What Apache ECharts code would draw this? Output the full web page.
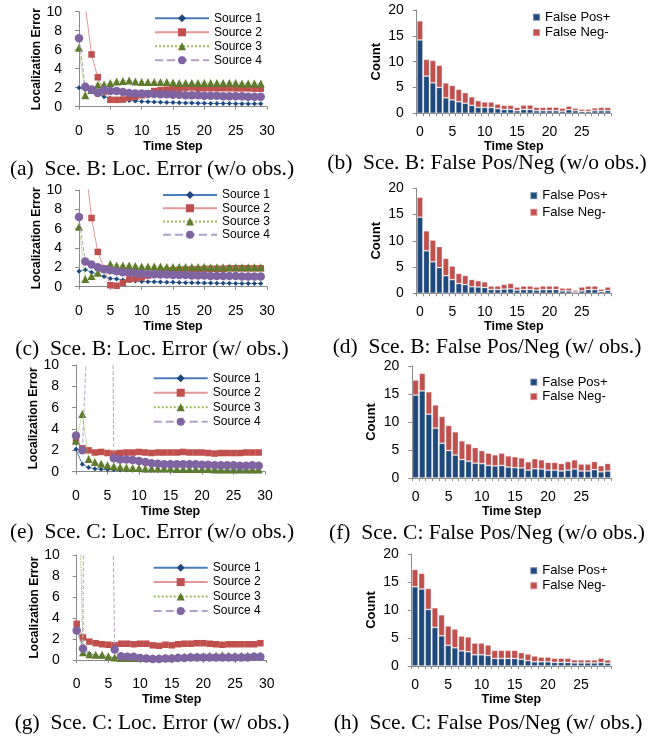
<!DOCTYPE html>
<html><head><meta charset="utf-8">
<script src="https://cdn.jsdelivr.net/npm/echarts@6/dist/echarts.min.js"></script>
<style>html,body{margin:0;padding:0;background:#fff}#c{width:650px;height:738px}</style>
</head><body><div id="c"></div>
<script>
// ---------- DATA ----------
const steps = [0,1,2,3,4,5,6,7,8,9,10,11,12,13,14,15,16,17,18,19,20,21,22,23,24,25,26,27,28,29];
const barCats = ['0','1','2','3','4','5','6','7','8','9','10','11','12','13','14','15','16','17','18','19','20','21','22','23','24','25','26','27','28','29'];
const lineNames = ['Source 1','Source 2','Source 3','Source 4'];
const barNames = ['False Pos+','False Neg-'];
const captions = ['(a)  Sce. B: Loc. Error (w/o obs.)','(b)  Sce. B: False Pos/Neg (w/o obs.)',
  '(c)  Sce. B: Loc. Error (w/ obs.)','(d)  Sce. B: False Pos/Neg (w/ obs.)',
  '(e)  Sce. C: Loc. Error (w/o obs.)','(f)  Sce. C: False Pos/Neg (w/o obs.)',
  '(g)  Sce. C: Loc. Error (w/ obs.)','(h)  Sce. C: False Pos/Neg (w/ obs.)'];

// (a) Sce. B Loc. Error w/o obs.
const a_s1 = [2.0,1.8,1.6,1.4,1.05,0.88,0.8,0.72,0.65,0.6,0.55,0.52,0.5,0.48,0.45,0.43,0.42,0.4,0.39,0.37,0.36,0.35,0.34,0.33,0.33,0.32,0.31,0.3,0.3,0.3];
const a_s2 = [20,10.6,5.5,3.1,1.6,0.72,0.72,0.75,0.95,1.05,1.2,1.4,1.65,1.75,1.8,1.9,1.93,2.0,2.03,1.95,1.95,1.95,1.95,1.95,1.95,1.93,1.93,1.93,1.9,1.9];
const a_s3 = [6.2,1.2,1.75,2.3,2.35,2.5,2.65,2.7,2.75,2.65,2.6,2.6,2.6,2.6,2.6,2.55,2.5,2.5,2.5,2.5,2.5,2.5,2.5,2.5,2.5,2.5,2.45,2.45,2.45,2.45];
const a_s4 = [7.2,2.1,1.8,1.45,1.75,1.65,1.65,1.55,1.45,1.4,1.4,1.35,1.35,1.3,1.3,1.25,1.25,1.2,1.2,1.2,1.15,1.15,1.15,1.1,1.1,1.1,1.1,1.05,1.05,1.05];
// (c) Sce. B Loc. Error w/ obs.
const c_s1 = [1.6,1.75,1.5,1.3,1.05,0.85,0.8,0.7,0.65,0.6,0.55,0.52,0.5,0.48,0.46,0.45,0.43,0.42,0.4,0.4,0.38,0.37,0.36,0.35,0.35,0.34,0.33,0.33,0.32,0.32];
const c_s2 = [20,12.9,7.1,3.6,1.9,0.15,0.1,0.4,0.75,0.83,0.95,1.15,1.3,1.6,1.65,1.7,1.75,1.8,1.8,1.8,1.85,1.85,1.85,1.85,1.9,1.9,1.9,1.9,1.9,1.9];
const c_s3 = [6.2,0.8,1.1,1.45,1.9,2.35,2.2,2.2,2.2,2.15,2.1,2.1,2.1,2.1,2.05,2.05,2.05,2.05,2.05,2.05,2.05,2.0,2.0,2.0,2.0,2.0,2.0,2.0,2.0,2.0];
const c_s4 = [7.2,2.6,2.3,2.0,1.8,1.7,1.6,1.5,1.45,1.4,1.35,1.3,1.3,1.25,1.25,1.2,1.2,1.2,1.15,1.15,1.15,1.1,1.1,1.1,1.1,1.1,1.05,1.05,1.05,1.05];
// (e) Sce. C Loc. Error w/o obs.
const e_s1 = [2.1,0.7,0.4,0.28,0.22,0.2,0.18,0.16,0.15,0.14,0.13,0.12,0.12,0.11,0.11,0.1,0.1,0.1,0.1,0.1,0.1,0.1,0.1,0.1,0.1,0.1,0.1,0.1,0.1,0.1];
const e_s2 = [2.9,2.2,2.0,1.8,1.85,1.75,1.7,1.75,1.8,1.8,1.85,1.8,1.75,1.8,1.8,1.8,1.8,1.85,1.8,1.8,1.8,1.75,1.7,1.75,1.75,1.75,1.75,1.8,1.8,1.8];
const e_s3 = [2.9,5.4,1.2,0.9,0.75,0.6,0.5,0.45,0.4,0.35,0.35,0.3,0.3,0.3,0.3,0.3,0.25,0.25,0.25,0.25,0.25,0.25,0.2,0.2,0.2,0.2,0.2,0.2,0.2,0.2];
const e_s4 = [3.4,2.0,16,60,80,80,1.25,1.15,1.15,1.1,1.0,0.9,0.8,0.75,0.7,0.7,0.7,0.7,0.7,0.7,0.65,0.65,0.6,0.6,0.6,0.6,0.55,0.55,0.6,0.55];
// (g) Sce. C Loc. Error w/ obs.
const g_s1 = [3.1,1.2,0.6,0.4,0.3,0.25,0.2,0.18,0.15,0.15,0.15,0.15,0.15,0.15,0.15,0.15,0.2,0.2,0.2,0.2,0.2,0.2,0.2,0.2,0.2,0.2,0.2,0.2,0.2,0.2];
const g_s2 = [3.45,2.15,1.75,1.6,1.5,1.45,1.4,1.55,1.55,1.5,1.55,1.55,1.4,1.35,1.45,1.4,1.5,1.55,1.55,1.6,1.6,1.55,1.5,1.45,1.5,1.5,1.5,1.5,1.5,1.6];
const g_s3 = [26,0.75,0.55,0.5,0.5,0.35,0.25,0.2,0.2,0.2,0.2,0.2,0.2,0.2,0.2,0.25,0.3,0.3,0.35,0.35,0.35,0.4,0.4,0.45,0.4,0.4,0.4,0.4,0.4,0.4];
const g_s4 = [2.8,1.1,180,150,150,44,1.0,0.35,0.3,0.3,0.2,0.15,0.1,0.1,0.15,0.15,0.2,0.2,0.25,0.25,0.25,0.25,0.25,0.25,0.25,0.25,0.25,0.25,0.3,0.3];

// (b) Sce. B False Pos/Neg w/o obs.
const b_pos = [14.2,7.2,5.9,5.0,3.0,2.6,2.25,1.95,1.55,1.15,1.15,1.1,0.9,0.75,0.75,0.5,0.75,0.75,0.5,0.5,0.5,0.5,0.4,0.7,0.5,0.35,0.35,0.5,0.5,0.5];
const b_neg = [3.7,3.25,4.35,4.3,2.9,2.8,2.4,2.05,1.65,1.3,1.05,1.1,0.9,0.8,0.8,0.65,0.85,0.85,0.65,0.65,0.7,0.7,0.6,0.7,0.5,0.45,0.45,0.55,0.65,0.65];
// (d) Sce. B False Pos/Neg w/ obs.
const d_pos = [14.5,8.1,6.0,4.9,3.35,2.6,1.85,1.65,1.25,1.2,1.1,0.7,0.7,0.8,0.85,0.6,0.7,0.7,0.6,0.7,0.7,0.7,0.45,0.45,0.25,0.45,0.7,0.7,0.35,0.55];
const d_neg = [3.8,3.8,4.15,4.0,3.3,2.6,1.95,1.75,1.4,1.2,1.1,0.7,0.7,0.9,1.05,0.6,0.7,0.7,0.6,0.7,0.7,0.7,0.55,0.55,0.35,0.75,0.7,0.7,0.45,0.65];
// (f) Sce. C False Pos/Neg w/o obs.
const f_pos = [14.8,15.55,11.4,8.9,6.2,4.9,4.1,3.3,3.0,2.65,2.55,2.25,2.15,2.25,1.95,1.85,1.8,1.4,1.65,1.6,1.4,1.4,1.25,1.4,1.6,1.25,1.25,1.5,1.1,1.25];
const f_neg = [2.7,3.15,4.0,4.15,4.8,4.5,4.15,3.35,3.1,2.8,2.35,2.2,2.0,2.2,2.0,1.95,1.8,1.5,1.8,1.65,1.4,1.4,1.35,1.55,1.65,1.25,1.25,1.45,1.1,1.35];
// (h) Sce. C False Pos/Neg w/ obs.
const h_pos = [14.15,13.75,10.1,6.9,5.4,3.7,3.25,2.7,2.55,2.0,2.0,1.85,1.35,1.35,1.35,1.35,1.2,0.95,0.75,0.75,0.75,0.65,0.65,0.65,0.55,0.55,0.55,0.55,0.6,0.5];
const h_neg = [3.1,2.8,3.75,3.5,3.75,3.45,3.35,2.65,2.65,2.1,2.1,1.9,1.45,1.45,1.45,1.45,1.2,1.2,1.05,0.85,0.85,0.75,0.75,0.75,0.55,0.55,0.55,0.55,0.8,0.6];

// ---------- LAYOUT / STYLE ----------
const SANS = 'Liberation Sans, Arial, sans-serif';
const SERIF = 'Liberation Serif, Times New Roman, serif';
const AXIS = '#8a8a8a';

const linePanels = [
  {grid:{left:79,top:11.7,width:188,height:95}, leg:{left:154,top:11.3,lh:14}, data:[a_s1,a_s2,a_s3,a_s4]},
  {grid:{left:79,top:190,width:188,height:96.7}, leg:{left:162,top:188.3,lh:13.3}, data:[c_s1,c_s2,c_s3,c_s4]},
  {grid:{left:76,top:365,width:189,height:106.7}, leg:{left:152.7,top:371,lh:14.5}, data:[e_s1,e_s2,e_s3,e_s4]},
  {grid:{left:76.7,top:555,width:190,height:105}, leg:{left:152.7,top:560.5,lh:14.4}, data:[g_s1,g_s2,g_s3,g_s4]}
];
const barPanels = [
  {grid:{left:416.7,top:10,width:194.3,height:103.3}, leg:{left:532,top:9.6,lh:15.3}, data:[b_pos,b_neg]},
  {grid:{left:416.7,top:188.3,width:194.3,height:105}, leg:{left:529.3,top:187.3,lh:16.7}, data:[d_pos,d_neg]},
  {grid:{left:412.3,top:366,width:198.7,height:112}, leg:{left:529.3,top:375,lh:14.4}, data:[f_pos,f_neg]},
  {grid:{left:411.7,top:554,width:199.3,height:112}, leg:{left:529.3,top:563.2,lh:15}, data:[h_pos,h_neg]}
];
const capPos = [[152,169],[487,163],[152,349],[487,347],[152,532],[487,533],[152,723],[488,723]];

const lineStyles = [
  {line:{color:'#4A7EBB',width:1,type:'solid'}, sym:'diamond', size:5, fill:'#1F497D'},
  {line:{color:'#E39896',width:1,type:'solid'}, sym:'rect', size:6.5, fill:'#C0504D'},
  {line:{color:'#9BBB59',width:1,type:'dotted'}, sym:'triangle', size:8, fill:'#5E7B2E'},
  {line:{color:'#B3A2C7',width:1,type:'dashed'}, sym:'circle', size:8.5, fill:'#8064A2'}
];
const barColors = ['#1F497D','#C0504D'];

const grid = [], xAxis = [], yAxis = [], series = [], legend = [], graphic = [];

linePanels.forEach((p, k) => {
  const gi = grid.length;
  grid.push(Object.assign({containLabel:false}, p.grid));
  xAxis.push({type:'value', gridIndex:gi, min:0, max:30, interval:5,
    axisLine:{show:true, lineStyle:{color:AXIS}}, axisTick:{show:true, length:3, lineStyle:{color:AXIS}},
    splitLine:{show:false}, axisLabel:{margin:17, fontSize:14, color:'#000', fontFamily:SANS},
    name:'Time Step', nameLocation:'middle', nameGap:33,
    nameTextStyle:{fontSize:12.5, fontWeight:'bold', color:'#000', fontFamily:SANS}});
  yAxis.push({type:'value', gridIndex:gi, min:0, max:10, interval:2,
    axisLine:{show:true, lineStyle:{color:AXIS}}, axisTick:{show:true, length:4, lineStyle:{color:AXIS}},
    splitLine:{show:false}, axisLabel:{margin:17, fontSize:14, color:'#000', fontFamily:SANS},
    name:'Localization Error', nameLocation:'middle', nameGap:34,
    nameTextStyle:{fontSize:12, fontWeight:'bold', color:'#000', fontFamily:SANS}});
  p.data.forEach((vals, s) => {
    const st = lineStyles[s];
    series.push({type:'line', name:lineNames[s], xAxisIndex:gi, yAxisIndex:gi,
      data: vals.map((v, i) => [steps[i], v]), clip:true,
      symbol:st.sym, symbolSize:st.size, showSymbol:true,
      lineStyle:st.line, itemStyle:{color:st.fill}, z:2+s});
  });
  legend.push({orient:'vertical', left:p.leg.left, top:p.leg.top, padding:0, itemWidth:54, itemHeight:10, itemGap:0,
    data:lineNames, selectedMode:false,
    textStyle:{fontSize:12, color:'#000', fontFamily:SANS, lineHeight:p.leg.lh, height:p.leg.lh}});
});

barPanels.forEach((p, k) => {
  const gi = grid.length;
  grid.push(Object.assign({containLabel:false}, p.grid));
  xAxis.push({type:'category', gridIndex:gi, data:barCats,
    axisLine:{show:true, lineStyle:{color:AXIS}},
    axisTick:{show:true, interval:0, length:3, lineStyle:{color:AXIS}},
    axisLabel:{interval:4, margin:12, fontSize:14, color:'#000', fontFamily:SANS},
    name:'Time Step', nameLocation:'middle', nameGap:27,
    nameTextStyle:{fontSize:12.5, fontWeight:'bold', color:'#000', fontFamily:SANS}});
  yAxis.push({type:'value', gridIndex:gi, min:0, max:20, interval:5,
    axisLine:{show:true, lineStyle:{color:AXIS}}, axisTick:{show:true, length:4, lineStyle:{color:AXIS}},
    splitLine:{show:false}, axisLabel:{margin:13, fontSize:14, color:'#000', fontFamily:SANS},
    name:'Count', nameLocation:'middle', nameGap:34,
    nameTextStyle:{fontSize:13, fontWeight:'bold', color:'#000', fontFamily:SANS}});
  p.data.forEach((vals, s) => {
    series.push({type:'bar', name:barNames[s], xAxisIndex:gi, yAxisIndex:gi, stack:'s'+gi,
      data:vals, barCategoryGap:'8%',
      itemStyle:{color:barColors[s], borderColor:'rgba(255,255,255,0.35)', borderWidth:0.8}});
  });
  legend.push({orient:'vertical', left:p.leg.left, top:p.leg.top, padding:0, itemWidth:7, itemHeight:7, itemGap:0,
    data:barNames.map(n => ({name:n, icon:'rect'})), selectedMode:false,
    textStyle:{fontSize:13, color:'#000', fontFamily:SANS, lineHeight:p.leg.lh, height:p.leg.lh}});
});

captions.forEach((t, i) => {
  graphic.push({type:'text', x:capPos[i][0], y:capPos[i][1],
    style:{text:t, fill:'#000', font:'21.5px ' + SERIF, textAlign:'center', textVerticalAlign:'middle'}});
});

const chart = echarts.init(document.getElementById('c'), null, {renderer:'canvas'});
chart.setOption({animation:false, backgroundColor:'#fff', grid, xAxis, yAxis, series, legend, graphic});
</script>
</body></html>
